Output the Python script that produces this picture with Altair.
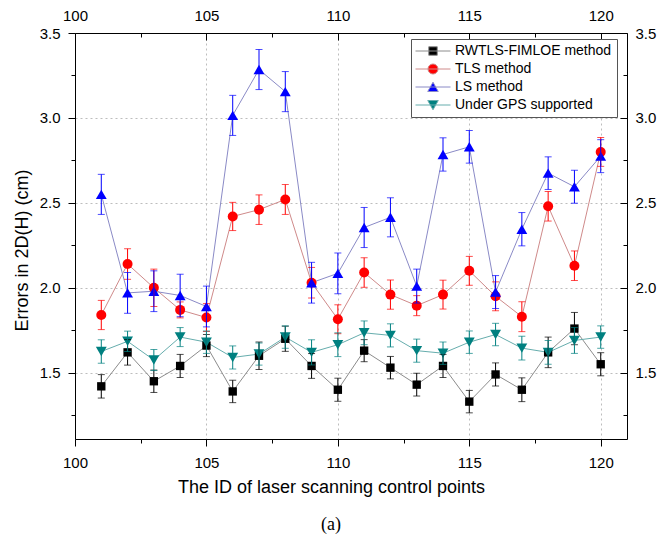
import altair as alt
import pandas as pd

ids = list(range(101, 121))
series_names = ["RWTLS-FIMLOE method", "TLS method", "LS method", "Under GPS supported"]

rwtls = [1.42, 1.62, 1.45, 1.54, 1.66, 1.39, 1.60, 1.70, 1.54, 1.40,
         1.63, 1.53, 1.43, 1.54, 1.33, 1.49, 1.40, 1.62, 1.76, 1.55]
rwtls_err = [0.069, 0.075, 0.066, 0.068, 0.065, 0.066, 0.081, 0.074, 0.073, 0.068,
             0.065, 0.066, 0.067, 0.068, 0.066, 0.068, 0.070, 0.090, 0.095, 0.068]
tls = [1.84, 2.14, 2.00, 1.87, 1.825, 2.42, 2.46, 2.52, 2.03, 1.815,
       2.09, 1.96, 1.895, 1.96, 2.10, 1.95, 1.83, 2.48, 2.13, 2.80]
tls_err = [0.086, 0.09, 0.11, 0.047, 0.082, 0.083, 0.087, 0.088, 0.09, 0.085,
           0.087, 0.086, 0.059, 0.085, 0.085, 0.085, 0.088, 0.087, 0.087, 0.085]
ls = [2.55, 1.97, 1.98, 1.955, 1.89, 3.015, 3.285, 3.155, 2.03, 2.085,
      2.355, 2.415, 2.01, 2.785, 2.83, 1.975, 2.345, 2.675, 2.595, 2.775]
ls_err = [0.118, 0.12, 0.12, 0.125, 0.12, 0.118, 0.118, 0.118, 0.12, 0.12,
          0.118, 0.115, 0.10, 0.098, 0.096, 0.097, 0.098, 0.096, 0.097, 0.097]
gps = [1.625, 1.685, 1.575, 1.71, 1.68, 1.59, 1.61, 1.71, 1.62, 1.665,
       1.735, 1.72, 1.63, 1.615, 1.68, 1.725, 1.645, 1.62, 1.69, 1.71]
gps_err = [0.069, 0.06, 0.062, 0.056, 0.066, 0.068, 0.065, 0.066, 0.074, 0.07,
           0.07, 0.068, 0.068, 0.066, 0.066, 0.066, 0.07, 0.07, 0.076, 0.066]

x_major = [100, 105, 110, 115, 120]
x_minor = [102.5, 107.5, 112.5, 117.5]
x_grid = [105, 110, 115, 120]
y_major = [1.5, 2.0, 2.5, 3.0, 3.5]
y_minor = [1.25, 1.75, 2.25, 2.75, 3.25]
y_grid = [1.5, 2.0, 2.5, 3.0]

colors = ["#000000", "#FF0000", "#0000FF", "#008080"]
line_colors = ["#8c8c8c", "#cf8a8a", "#8a8ac6", "#66adad"]
shapes = ["square", "circle", "triangle-up", "triangle-down"]
sizes = [70, 100, 118, 118]

line_part = "M-3.5,0L3.5,0"
legend_paths = [
    line_part + "M-0.85,-0.85L0.85,-0.85L0.85,0.85L-0.85,0.85Z",
    line_part + "M-1,0A1,1,0,1,1,1,0A1,1,0,1,1,-1,0Z",
    line_part + "M0,-0.95L1.05,0.9L-1.05,0.9Z",
    line_part + "M0,0.95L1.05,-0.9L-1.05,-0.9Z",
]

vals = [rwtls, tls, ls, gps]
errs = [rwtls_err, tls_err, ls_err, gps_err]
rows = []
for name, v, e in zip(series_names, vals, errs):
    for i, val, er in zip(ids, v, e):
        rows.append({"id": i, "series": name, "val": val, "lo": val - er, "hi": val + er})
df = pd.DataFrame(rows)

FONT = "Liberation Sans"
xscale = alt.Scale(domain=[100, 121], nice=False, zero=False)
yscale = alt.Scale(domain=[1.11, 3.5], nice=False, zero=False)


def tick_axis(orient, values, size, offset=0):
    kw = dict(orient=orient, values=values, labels=False, domain=False, grid=False,
              ticks=True, tickSize=size, tickColor="black", tickWidth=1, title=None)
    if offset:
        kw["offset"] = offset
    return alt.Axis(**kw)


def label_axis(orient, values, fmt, pad, ticks, **extra):
    kw = dict(orient=orient, values=values, format=fmt, labelFont=FONT, labelFontSize=15,
              labelColor="black", labelPadding=pad, labelFlush=False, labelOverlap=False,
              ticks=ticks, domain=True, domainColor="black", domainWidth=1, grid=False)
    if ticks:
        kw.update(tickSize=7, tickColor="black", tickWidth=1)
    kw.update(extra)
    return alt.Axis(**kw)


grid_style = dict(grid=True, gridColor="#bdbdbd", gridDash=[2, 3], gridWidth=1,
                  labels=False, ticks=False, domain=False, title=None)

x_axes = [
    label_axis("bottom", x_major, "d", 9, True,
               title="The ID of laser scanning control points", titleFont=FONT,
               titleFontSize=18, titleFontWeight="normal", titleColor="black",
               titleX=256, titleY=48, titleBaseline="middle", titleAlign="center"),
    tick_axis("bottom", x_minor, 4),
    label_axis("top", x_major, "d", 10, False, title=None),
    tick_axis("top", x_major, 7, -7),
    tick_axis("top", x_minor, 4, -4),
    alt.Axis(orient="bottom", values=x_grid, **grid_style),
]
y_axes = [
    label_axis("left", y_major, ".1f", 8, True,
               title="Errors in 2D(H) (cm)", titleFont=FONT, titleFontSize=18,
               titleFontWeight="normal", titleColor="black", titleX=-53, titleY=217,
               titleBaseline="middle", titleAlign="center", titleAngle=270),
    tick_axis("left", y_minor, 4),
    label_axis("right", y_major, ".1f", 8, False, title=None),
    tick_axis("right", y_major, 7, -7),
    tick_axis("right", y_minor, 4, -4),
    alt.Axis(orient="left", values=y_grid, **grid_style),
]

axis_counter = [0]


def enc_xy(yfield):
    k = axis_counter[0]
    axis_counter[0] += 1
    xa = x_axes[k] if k < len(x_axes) else None
    ya = y_axes[k] if k < len(y_axes) else None
    return dict(x=alt.X("id:Q", scale=xscale, axis=xa),
                y=alt.Y(yfield, scale=yscale, axis=ya))


base = alt.Chart(df)
layers = []
for i, name in enumerate(series_names):
    layers.append(base.transform_filter(alt.datum.series == name)
                  .mark_line(color=line_colors[i], strokeWidth=1)
                  .encode(**enc_xy("val:Q")))
for i, name in enumerate(series_names):
    layers.append(base.transform_filter(alt.datum.series == name)
                  .mark_point(shape=shapes[i], filled=True, size=sizes[i], color=colors[i], opacity=1)
                  .encode(**enc_xy("val:Q")))
for i, name in enumerate(series_names):
    layers.append(base.transform_filter(alt.datum.series == name)
                  .mark_rule(color=colors[i], strokeWidth=1)
                  .encode(y2="hi:Q", **enc_xy("lo:Q")))
    layers.append(base.transform_filter(alt.datum.series == name)
                  .transform_fold(["lo", "hi"], as_=["end", "yv"])
                  .mark_tick(orient="horizontal", size=7, thickness=1, color=colors[i])
                  .encode(**enc_xy("yv:Q")))

leg = alt.Legend(title=None, orient="none", legendX=336, legendY=6, direction="vertical",
                 labelFont=FONT, labelFontSize=14, labelColor="black", labelLimit=400,
                 symbolSize=100, symbolStrokeWidth=1, symbolOffset=10, labelOffset=15,
                 symbolOpacity=1, padding=5, rowPadding=4, strokeColor="#555555",
                 fillColor="white")
layers.append(base.transform_filter("false")
              .mark_point(filled=True, opacity=1)
              .encode(fill=alt.Fill("series:N", scale=alt.Scale(domain=series_names, range=colors), legend=leg),
                      stroke=alt.Stroke("series:N", scale=alt.Scale(domain=series_names, range=line_colors), legend=leg),
                      shape=alt.Shape("series:N", scale=alt.Scale(domain=series_names, range=legend_paths), legend=leg),
                      **enc_xy("val:Q")))

chart = (alt.layer(*layers)
         .resolve_axis(x="independent", y="independent")
         .properties(width=552, height=406,
                     autosize=alt.AutoSizeParams(type="none"),
                     padding={"left": 75, "top": 33, "right": 30, "bottom": 101},
                     title=alt.TitleParams(text="(a)", orient="bottom", font="Liberation Serif",
                                           fontSize=18, fontWeight="normal", color="black",
                                           offset=20, anchor="middle", dx=-20))
         .configure_view(stroke="transparent")
         .configure(background="white"))

chart.save("out.html", embed_options={"renderer": "svg", "actions": False})
